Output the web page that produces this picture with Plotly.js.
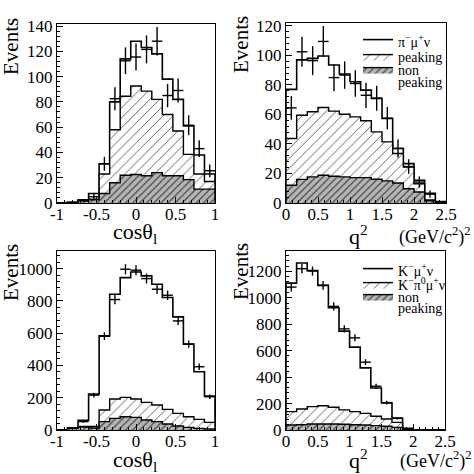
<!DOCTYPE html>
<html><head><meta charset="utf-8">
<script src="https://cdn.plot.ly/plotly-3.0.1.min.js"></script>
<style>html,body{margin:0;padding:0;background:#fff}#chart{width:474px;height:474px}</style>
</head><body><div id="chart"></div>
<script>
// ---------------- data (15 bins per histogram) ----------------
const nBins = 15;
const cosRange = [-1, 1];
const q2Range = [0, 2.5];

// D -> pi mu nu : cos(theta_l)
const piCosNonPeaking = [0, 0.5, 1.5, 2.5, 7.5, 16, 22, 22.5, 21.5, 24, 21.5, 21.5, 18.5, 11, 11];
const piCosPeaking    = [0, 0, 0.5, 0.5, 15.5, 42, 62.5, 70, 67, 58, 48.5, 35.5, 20, 12, 6];
const piCosSignal     = [0, 0, 0.5, 4.5, 8, 22, 29.5, 35.5, 34.5, 36, 28, 25, 22.5, 15, 6];
const piCosData       = [null, null, null, 5, 31, 82.5, 112.5, 115.5, 121.5, 128, 85, 89, 61.5, 43, 25.5];

// D -> pi mu nu : q^2
const piQ2NonPeaking = [12, 16, 17.7, 18.8, 18.1, 17.7, 17.2, 17.2, 16.1, 15, 13.6, 9.7, 7.5, 1.5, 0.2];
const piQ2Peaking    = [31.7, 43.5, 44.1, 45.9, 44.2, 42.5, 41.2, 38.5, 32.1, 26.4, 19.9, 14.7, 5.5, 0.5, 0.1];
const piQ2Signal     = [33.3, 37.5, 36.2, 34.9, 31.2, 27.2, 23.8, 20.8, 22.7, 15.9, 3.4, 2.3, 2.4, 4.5, 0.7];
const piQ2Data       = [64.5, 102.5, 96.5, 109.5, 85, 86.7, 81, 73, 71, 57.5, 37, 24.7, 14.2, 6, null];

// D -> K mu nu : cos(theta_l)
const kCosNonPeaking = [0, 10, 18, 12, 52, 72, 82, 78, 62, 52, 37, 25, 16, 10, 6];
const kCosPeaking    = [0, 2, 4, 10, 72, 120, 120, 114, 109, 103, 91, 78, 66, 56, 41];
const kCosSignal     = [0, 0, 38, 201, 459, 649, 742, 787, 784, 748, 693, 598, 450, 295, 163];
const kCosData       = [null, null, 52, 216, 581, 808, 996, 990, 938, 872, 835, 676, 532, 392, 206];

// D -> K mu nu : q^2
const kQ2NonPeaking = [38, 40, 45, 45, 45, 43, 40, 38, 33, 28, 20, 4, 0, 0, 0];
const kQ2Peaking    = [101, 119, 132, 139, 127, 109, 99, 88, 71, 55, 38, 4, 0, 0, 0];
const kQ2Signal     = [972, 1104, 1030, 910, 753, 596, 488, 344, 214, 122, 33, 5, 0, 0, 0];
const kQ2Data       = [1081, 1220, 1202, 1094, 935, 765, 697, 513, 331, 207, 88, null, null, null, null];

// tick labels
const cosTickVals = [-1, -0.5, 0, 0.5, 1];
const cosTickText = ['-1', '-0.5', '0', '0.5', '1'];
const q2TickVals = [0, 0.5, 1, 1.5, 2, 2.5];
const q2TickText = ['0', '0.5', '1', '1.5', '2', '2.5'];
const yTicksTop = [0, 20, 40, 60, 80, 100, 120, 140];
const yTicksBottomLeft = [0, 200, 400, 600, 800, 1000];
const yTicksBottomRight = [0, 200, 400, 600, 800, 1000, 1200];

// legend labels
const legendTop = ['π<sup>−</sup>μ<sup>+</sup>ν', 'peaking', 'non'];
const legendBottom = ['K<sup>−</sup>μ<sup>+</sup>ν', 'K<sup>−</sup>π<sup>0</sup>μ<sup>+</sup>ν', 'non'];
const legendSecondLine = 'peaking';

// ---------------- helpers ----------------
const FONT = '"Liberation Serif", "Times New Roman", serif';
function edgesOf(r) { const w = (r[1] - r[0]) / nBins; const e = []; for (let i = 0; i <= nBins; i++) e.push(r[0] + i * w); return e; }
function centersOf(r) { const e = edgesOf(r); return e.slice(0, nBins).map((v, i) => (v + e[i + 1]) / 2); }
function addArr(a, b) { return a.map((v, i) => v + b[i]); }
function stepXY(edges, vals) {
  const x = [edges[0]], y = [0];
  for (let i = 0; i < vals.length; i++) { x.push(edges[i]); y.push(vals[i]); }
  x.push(edges[vals.length]); y.push(vals[vals.length - 1]);
  x.push(edges[vals.length]); y.push(0);
  return { x, y };
}

const hatchPattern = { shape: '/', fgcolor: '#666666', bgcolor: 'white', size: 7, solidity: 0.14, fillmode: 'replace' };
const darkPattern = { shape: '/', fgcolor: '#484848', bgcolor: '#b5b5b5', size: 5, solidity: 0.25, fillmode: 'replace' };

const traces = [];
function panel(xa, ya, range, nonpk, pk, sig, data, labels, legendIds) {
  const edges = edgesOf(range);
  const bkg = addArr(nonpk, pk);
  const tot = addArr(bkg, sig);
  const sTot = stepXY(edges, tot), sBkg = stepXY(edges, bkg), sNon = stepXY(edges, nonpk);
  const show = !!labels;
  traces.push({ type: 'scatter', mode: 'lines', x: sTot.x, y: sTot.y, xaxis: xa, yaxis: ya,
    line: { color: 'black', width: 1.6, shape: 'hv' }, fill: 'tozeroy', fillcolor: 'white',
    name: show ? labels[0] : 'total', showlegend: show, legend: show ? legendIds[0] : 'legend', hoverinfo: 'skip' });
  traces.push({ type: 'scatter', mode: 'lines', x: sBkg.x, y: sBkg.y, xaxis: xa, yaxis: ya,
    line: { color: 'black', width: 1.4, shape: 'hv' }, fill: 'tozeroy', fillcolor: 'white', fillpattern: hatchPattern,
    name: show ? labels[1] : 'peaking', showlegend: show, legend: show ? legendIds[1] : 'legend', hoverinfo: 'skip' });
  traces.push({ type: 'scatter', mode: 'lines', x: sNon.x, y: sNon.y, xaxis: xa, yaxis: ya,
    line: { color: 'black', width: 1.4, shape: 'hv' }, fill: 'tozeroy', fillcolor: '#b5b5b5', fillpattern: darkPattern,
    name: show ? labels[2] : 'non peaking', showlegend: show, legend: show ? legendIds[2] : 'legend', hoverinfo: 'skip' });
  const w = (range[1] - range[0]) / nBins;
  traces.push({ type: 'scatter', mode: 'markers', x: centersOf(range), y: data, xaxis: xa, yaxis: ya,
    marker: { color: 'black', size: 1 }, showlegend: false, name: 'data',
    error_x: { type: 'constant', value: w / 2, width: 0, thickness: 1.4, color: 'black' },
    error_y: { type: 'data', array: data.map(v => v == null ? null : Math.sqrt(v)), width: 0, thickness: 1.4, color: 'black' } });
}
panel('x', 'y', cosRange, piCosNonPeaking, piCosPeaking, piCosSignal, piCosData, null, null);
panel('x2', 'y2', q2Range, piQ2NonPeaking, piQ2Peaking, piQ2Signal, piQ2Data, legendTop, ['legend', 'legend3', 'legend4']);
panel('x3', 'y3', cosRange, kCosNonPeaking, kCosPeaking, kCosSignal, kCosData, null, null);
panel('x4', 'y4', q2Range, kQ2NonPeaking, kQ2Peaking, kQ2Signal, kQ2Data, legendBottom, ['legend2', 'legend5', 'legend6']);

function xAxis(dom, range, vals, text, anchor) {
  return { domain: dom, range: range, anchor: anchor, showline: true, mirror: true, linecolor: 'black', linewidth: 1,
    ticks: 'inside', ticklen: 6, tickwidth: 1, tickcolor: 'black', tickvals: vals, ticktext: text, ticklabelstandoff: -4,
    minor: { ticks: 'inside', ticklen: 3, dtick: 0.1, tickcolor: 'black', tickwidth: 1 },
    showgrid: false, zeroline: false, tickfont: { family: FONT, size: 17, color: 'black' }, fixedrange: true };
}
function yAxis(dom, range, vals, minorStep, anchor) {
  return { domain: dom, range: range, anchor: anchor, showline: true, mirror: true, linecolor: 'black', linewidth: 1,
    ticks: 'inside', ticklen: 6, tickwidth: 1, tickcolor: 'black', tickvals: vals, ticktext: vals.map(String),
    minor: { ticks: 'inside', ticklen: 3, dtick: minorStep, tickcolor: 'black', tickwidth: 1 },
    showgrid: false, zeroline: false, tickfont: { family: FONT, size: 17, color: 'black' }, fixedrange: true };
}
const P = v => v / 474;
const Y = v => 1 - v / 474;

const annFont = s => ({ family: FONT, size: s, color: 'black' });
const annotations = [
  { text: 'Events', x: P(11), y: Y(47), textangle: -90, font: annFont(21) },
  { text: 'Events', x: P(241), y: Y(45), textangle: -90, font: annFont(21) },
  { text: 'Events', x: P(11), y: Y(273), textangle: -90, font: annFont(21) },
  { text: 'Events', x: P(241), y: Y(272), textangle: -90, font: annFont(21) },
  { text: 'cosθ<sub>l</sub>', x: P(135), y: Y(233), font: annFont(22) },
  { text: 'cosθ<sub>l</sub>', x: P(135), y: Y(461), font: annFont(22) },
  { text: 'q<sup>2</sup>', x: P(358), y: Y(235), font: annFont(22) },
  { text: 'q<sup>2</sup>', x: P(358), y: Y(459), font: annFont(22) },
  { text: '(GeV/c<sup>2</sup>)<sup>2</sup>', x: P(435), y: Y(236), font: annFont(18) },
  { text: '(GeV/c<sup>2</sup>)<sup>2</sup>', x: P(436), y: Y(460), font: annFont(18) },
  { text: legendSecondLine, x: P(396), y: Y(82), xanchor: 'left', font: annFont(14) },
  { text: legendSecondLine, x: P(396), y: Y(308), xanchor: 'left', font: annFont(14) }
].map(a => Object.assign({ xref: 'paper', yref: 'paper', xanchor: 'center', yanchor: 'middle', showarrow: false }, a));

const legendStyle = (x, y) => ({ x: P(x), y: Y(y), xanchor: 'left', yanchor: 'top', bgcolor: 'rgba(0,0,0,0)', borderwidth: 0,
  font: { family: FONT, size: 14, color: 'black' }, tracegroupgap: 0, itemwidth: 30, traceorder: 'normal' });

const layout = {
  width: 474, height: 474, margin: { l: 0, r: 0, t: 0, b: 0 },
  paper_bgcolor: 'white', plot_bgcolor: 'white', showlegend: true,
  xaxis: xAxis([P(57), P(215)], cosRange, cosTickVals, cosTickText, 'y'),
  yaxis: yAxis([Y(203), Y(24)], [0, 141.6], yTicksTop, 4, 'x'),
  xaxis2: xAxis([P(286), P(446)], q2Range, q2TickVals, q2TickText, 'y2'),
  yaxis2: yAxis([Y(203), Y(23)], [0, 122], yTicksTop.slice(0, 7), 4, 'x2'),
  xaxis3: xAxis([P(57), P(215)], cosRange, cosTickVals, cosTickText, 'y3'),
  yaxis3: yAxis([Y(430), Y(251)], [0, 1109], yTicksBottomLeft, 40, 'x3'),
  xaxis4: xAxis([P(286), P(445)], q2Range, q2TickVals, q2TickText, 'y4'),
  yaxis4: yAxis([Y(430), Y(251)], [0, 1354], yTicksBottomRight, 40, 'x4'),
  legend: legendStyle(358, 26),
  legend3: legendStyle(358, 41),
  legend4: legendStyle(358, 54),
  legend2: legendStyle(358, 255),
  legend5: legendStyle(358, 269),
  legend6: legendStyle(358, 281),
  annotations: annotations
};
Plotly.newPlot('chart', traces, layout, { staticPlot: true, displayModeBar: false });
</script></body></html>
